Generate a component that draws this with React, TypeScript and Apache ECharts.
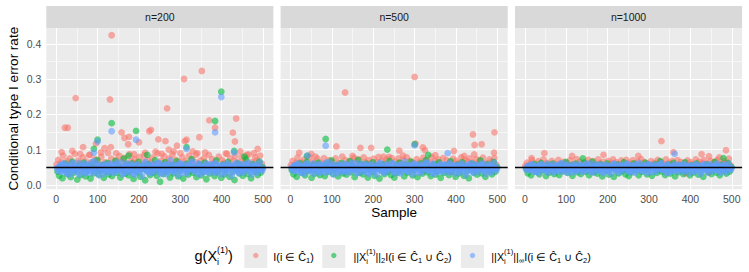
import React, { useEffect, useRef } from "react";
import * as echarts from "echarts";

// ---------- data ----------
const PANELS = ["n=200", "n=500", "n=1000"];
const SERIES_NAMES = ["I(i∈Ĉ1)", "||X_i^(1)||_2 I(i∈Ĉ1∪Ĉ2)", "||X_i^(1)||_∞ I(i∈Ĉ1∪Ĉ2)"];
const COLORS = ["#F8766D", "#00BA38", "#619CFF"];
const SAMPLE_TICKS = [0, 100, 200, 300, 400, 500];
const SAMPLE_MINOR = [50, 150, 250, 350, 450];
const RATE_TICKS = [0, 0.1, 0.2, 0.3, 0.4];
const RATE_MINOR = [0.05, 0.15, 0.25, 0.35];
const NOMINAL_LEVEL = 0.05;
// band series show every 4th sample; first sample per colour
const BAND_FIRST = [1, 3, 4];
const EXTRA_BLUE_FIRST = 2;
const BAND_STEP = 4;

// band values (thousandths), n=200
const red200 = [58, 71, 46, 64, 83, 52, 67, 41, 75, 60, 55, 88, 49, 69, 62, 44, 78, 57, 66, 51, 85, 63, 47, 72, 59,
  68, 43, 80, 56, 64, 50, 91, 61, 74, 46, 58, 70, 54, 82, 65, 39, 76, 60, 53, 87, 67, 48, 73, 62, 57,
  79, 45, 66, 84, 55, 70, 49, 63, 77, 58, 42, 89, 61, 68, 52, 81, 64, 47, 74, 59, 86, 56, 71, 44, 65,
  53, 78, 60, 67, 40, 83, 57, 72, 50, 64, 90, 55, 69, 46, 76, 62, 58, 85, 48, 73, 61, 66, 37, 80, 54,
  70, 63, 47, 88, 59, 75, 52, 68, 82, 56, 65, 43, 79, 61, 71, 50, 86, 58, 64, 45, 77, 69, 54, 83, 60];
const green200 = [38, 26, 51, 19, 44, 60, 31, 47, 22, 66, 35, 42, 15, 55, 28, 49, 63, 24, 40, 53, 18, 58, 33, 45, 71,
  29, 41, 56, 20, 37, 62, 30, 48, 25, 43, 68, 34, 52, 21, 46, 74, 32, 57, 27, 39, 61, 17, 50, 36, 65,
  23, 45, 54, 13, 40, 59, 28, 47, 35, 70, 26, 42, 9, 53, 31, 64, 38, 49, 21, 56, 33, 44, 67, 24, 41,
  52, 18, 46, 60, 29, 39, 73, 34, 50, 22, 43, 58, 27, 37, 63, 16, 48, 32, 55, 41, 25, 69, 36, 45, 20,
  57, 30, 42, 65, 23, 51, 38, 14, 46, 61, 33, 54, 26, 40, 72, 31, 48, 19, 59, 37, 44, 28, 66, 35, 50];
const blue200 = [45, 52, 37, 58, 42, 49, 31, 55, 44, 63, 39, 50, 47, 29, 54, 41, 60, 35, 48, 57, 33, 46, 67, 40, 53,
  27, 50, 43, 59, 38, 55, 45, 34, 57, 48, 40, 64, 42, 51, 30, 53, 46, 61, 36, 49, 56, 32, 44, 58, 41,
  51, 25, 47, 65, 38, 54, 43, 35, 58, 49, 46, 62, 31, 53, 42, 57, 37, 48, 69, 44, 36, 55, 50, 28, 60,
  40, 54, 46, 33, 57, 47, 66, 39, 52, 43, 61, 30, 50, 37, 55, 45, 34, 59, 48, 41, 63, 36, 52, 44, 56,
  47, 32, 58, 42, 51, 26, 54, 45, 62, 38, 49, 56, 35, 48, 60, 41, 53, 29, 46, 57, 39, 51, 64, 43, 48];
const blueB200 = [48, 39, 56, 43, 61, 35, 52, 46, 30, 58, 44, 50, 37, 62, 41, 54, 47, 33, 57, 49, 40, 64, 45, 36, 53,
  59, 42, 50, 31, 55, 47, 38, 60, 44, 52, 35, 57, 48, 41, 63, 46, 34, 54, 50, 39, 58, 43, 29, 56, 47,
  37, 53, 45, 60, 41, 49, 33, 57, 46, 52, 40, 62, 44, 36, 55, 48, 31, 59, 43, 51, 38, 56, 47, 42, 61,
  50, 34, 58, 45, 39, 54, 47, 63, 41, 49, 32, 56, 44, 52, 37, 60, 46, 40, 55, 48, 35, 58, 43, 51, 30,
  55, 44, 38, 61, 47, 52, 36, 57, 42, 49, 33, 59, 45, 40, 54, 48, 62, 37, 51, 44, 56, 34, 50, 46, 41];

// n=500
const red500 = [56, 68, 45, 62, 77, 51, 64, 42, 72, 58, 54, 79, 48, 66, 60, 44, 74, 55, 63, 50, 76, 61, 46, 69, 57,
  65, 43, 75, 54, 62, 49, 80, 59, 70, 46, 56, 67, 52, 77, 63, 40, 72, 58, 51, 78, 64, 47, 70, 60, 55,
  74, 45, 64, 79, 53, 68, 48, 61, 73, 56, 42, 76, 59, 66, 51, 75, 62, 47, 71, 57, 78, 54, 68, 44, 63,
  52, 73, 58, 65, 41, 77, 55, 69, 49, 62, 79, 54, 67, 46, 72, 60, 56, 76, 48, 70, 59, 64, 38, 74, 53,
  68, 61, 47, 78, 57, 71, 51, 66, 75, 55, 63, 43, 73, 59, 69, 50, 77, 57, 62, 45, 72, 66, 53, 76, 58];
const green500 = [42, 30, 53, 23, 47, 61, 35, 50, 27, 65, 39, 45, 20, 57, 32, 48, 63, 28, 43, 54, 25, 59, 37, 49, 69,
  31, 44, 56, 24, 40, 62, 33, 51, 29, 46, 67, 36, 53, 22, 47, 71, 34, 58, 30, 41, 60, 21, 50, 38, 64,
  26, 46, 55, 18, 42, 59, 31, 48, 37, 68, 28, 44, 21, 54, 34, 63, 40, 50, 24, 57, 35, 45, 66, 27, 43,
  52, 22, 47, 61, 32, 41, 70, 36, 51, 25, 44, 58, 29, 39, 64, 20, 49, 34, 56, 42, 28, 67, 38, 46, 23,
  57, 33, 43, 64, 26, 52, 40, 19, 47, 60, 35, 55, 29, 42, 69, 33, 49, 23, 58, 39, 45, 30, 65, 37, 51];
const blue500 = [46, 52, 39, 57, 43, 50, 34, 55, 45, 61, 41, 51, 47, 32, 54, 42, 59, 37, 49, 56, 35, 47, 64, 42, 53,
  30, 50, 44, 58, 39, 55, 46, 36, 57, 48, 41, 62, 43, 52, 33, 53, 47, 60, 38, 49, 56, 34, 45, 58, 42,
  51, 29, 48, 63, 39, 54, 44, 37, 57, 50, 46, 61, 33, 53, 43, 56, 38, 49, 66, 45, 37, 55, 51, 31, 59,
  41, 54, 47, 35, 57, 48, 64, 40, 52, 44, 60, 32, 50, 38, 55, 46, 36, 58, 49, 42, 62, 37, 52, 45, 56,
  48, 34, 57, 43, 51, 28, 54, 46, 61, 39, 50, 56, 36, 49, 59, 42, 53, 31, 47, 57, 40, 51, 63, 44, 49];
const blueB500 = [49, 40, 56, 44, 60, 36, 52, 47, 32, 58, 45, 51, 38, 61, 42, 54, 48, 34, 57, 50, 41, 63, 46, 37, 53,
  59, 43, 50, 33, 55, 47, 39, 60, 45, 52, 36, 57, 48, 42, 62, 46, 35, 54, 50, 40, 58, 44, 31, 56, 47,
  38, 53, 46, 60, 42, 49, 34, 57, 47, 52, 41, 61, 45, 37, 55, 48, 33, 59, 44, 51, 39, 56, 47, 43, 60,
  50, 35, 58, 46, 40, 54, 47, 62, 42, 49, 33, 56, 45, 52, 38, 59, 46, 41, 55, 48, 36, 58, 44, 51, 32,
  55, 45, 39, 60, 47, 52, 37, 57, 43, 49, 34, 58, 46, 41, 54, 48, 61, 38, 51, 45, 56, 35, 50, 47, 42];

// n=1000
const red1000 = [54, 63, 46, 59, 70, 50, 61, 44, 67, 56, 52, 72, 48, 62, 57, 45, 68, 53, 60, 49, 71, 58, 47, 65, 55,
  62, 44, 69, 52, 59, 48, 73, 56, 66, 46, 54, 63, 50, 71, 60, 41, 67, 55, 49, 72, 61, 47, 65, 57, 53,
  68, 45, 61, 72, 51, 64, 47, 58, 69, 54, 43, 71, 56, 62, 49, 70, 59, 46, 66, 55, 73, 52, 64, 44, 60,
  50, 67, 56, 62, 42, 71, 53, 65, 48, 59, 72, 52, 63, 45, 68, 57, 54, 70, 47, 65, 56, 61, 33, 69, 51,
  64, 58, 46, 72, 55, 66, 49, 62, 70, 53, 60, 35, 68, 56, 64, 48, 71, 54, 59, 44, 67, 62, 51, 74, 56];
const green1000 = [44, 33, 53, 27, 48, 59, 37, 51, 30, 62, 41, 46, 25, 56, 35, 49, 60, 31, 45, 53, 28, 57, 39, 50, 65,
  34, 46, 55, 26, 42, 60, 36, 52, 31, 47, 63, 38, 53, 27, 48, 66, 36, 56, 32, 43, 59, 24, 51, 40, 61,
  29, 47, 54, 23, 43, 58, 33, 49, 39, 64, 30, 45, 25, 54, 36, 61, 42, 50, 27, 56, 37, 46, 63, 30, 44,
  52, 26, 48, 59, 34, 42, 67, 38, 51, 28, 45, 57, 32, 41, 62, 24, 49, 36, 55, 43, 31, 64, 39, 47, 27,
  56, 35, 44, 61, 29, 52, 41, 23, 48, 58, 37, 54, 31, 43, 65, 35, 50, 27, 57, 40, 46, 32, 62, 38, 51];
const blue1000 = [47, 52, 41, 56, 44, 50, 37, 54, 46, 59, 43, 51, 48, 35, 54, 44, 57, 40, 49, 55, 38, 47, 61, 43, 53,
  34, 50, 45, 57, 41, 54, 47, 38, 56, 49, 42, 60, 44, 52, 36, 53, 48, 58, 40, 50, 55, 37, 46, 57, 43,
  51, 32, 48, 60, 41, 54, 45, 39, 56, 50, 47, 59, 36, 53, 44, 55, 40, 49, 62, 46, 39, 54, 51, 34, 57,
  42, 53, 48, 38, 56, 49, 60, 42, 52, 45, 58, 35, 50, 40, 54, 47, 38, 57, 49, 43, 59, 40, 52, 46, 55,
  48, 37, 56, 44, 51, 31, 53, 47, 59, 41, 50, 55, 38, 49, 58, 43, 53, 34, 47, 56, 42, 51, 60, 45, 49];
const blueB1000 = [49, 41, 55, 45, 59, 37, 52, 47, 34, 57, 45, 51, 39, 60, 43, 54, 48, 36, 56, 50, 42, 61, 46, 38, 53,
  58, 44, 50, 35, 55, 47, 40, 59, 45, 52, 37, 56, 48, 43, 61, 46, 36, 54, 50, 41, 57, 44, 33, 55, 47,
  39, 53, 46, 59, 43, 49, 35, 56, 47, 52, 42, 60, 45, 38, 55, 48, 34, 58, 44, 51, 40, 56, 47, 43, 59,
  50, 36, 57, 46, 41, 54, 47, 61, 43, 49, 34, 56, 45, 52, 39, 58, 46, 42, 55, 48, 37, 57, 44, 51, 33,
  55, 45, 40, 59, 47, 52, 38, 57, 44, 49, 35, 58, 46, 42, 54, 48, 60, 39, 51, 45, 56, 36, 50, 47, 43];

// outliers: [sample, value in thousandths]
const redOut200 = [[13, 93], [21, 162], [28, 162], [39, 96], [47, 246], [58, 88], [65, 107], [80, 85], [96, 117], [108, 92], [117, 104], [130, 242], [132, 107], [134, 424], [145, 90], [158, 149], [165, 133], [174, 115], [176, 136], [188, 87], [200, 121], [215, 91], [225, 152], [229, 156], [240, 94], [247, 129], [255, 88], [264, 124], [268, 217], [272, 100], [284, 95], [292, 111], [300, 90], [309, 300], [311, 124], [315, 128], [330, 95], [338, 86], [346, 135], [352, 323], [360, 92], [370, 183], [384, 162], [410, 89], [427, 148], [432, 123], [435, 188], [445, 95], [460, 85], [478, 90], [487, 102]];
const greenOut200 = [[91, 102], [100, 128], [134, 175], [175, 83], [193, 153], [220, 85], [315, 107], [384, 181], [399, 264], [430, 96], [455, 80]];
const blueOut200 = [[91, 91], [100, 123], [134, 152], [193, 128], [315, 102], [384, 149], [399, 249], [430, 92]];

const redOut500 = [[21, 91], [50, 88], [60, 80], [111, 109], [132, 262], [150, 82], [169, 105], [195, 105], [225, 80], [238, 79], [263, 97], [272, 83], [300, 306], [302, 117], [320, 106], [325, 98], [350, 84], [395, 96], [420, 82], [441, 143], [444, 86], [445, 113], [462, 115], [492, 91], [493, 149]];
const greenOut500 = [[40, 82], [85, 130], [234, 100], [300, 115], [333, 85]];
const blueOut500 = [[41, 83], [85, 111], [300, 112], [380, 90]];

const redOut1000 = [[16, 76], [47, 90], [114, 82], [190, 85], [274, 82], [330, 124], [359, 93], [427, 87], [445, 81], [470, 78], [486, 98]];
const greenOut1000 = [[140, 75], [480, 76]];
const blueOut1000 = [[362, 88]];

const BANDS = [
  [red200, green200, blue200],
  [red500, green500, blue500],
  [red1000, green1000, blue1000],
];
const EXTRA_BLUE = [blueB200, blueB500, blueB1000];
const OUTLIERS = [
  [redOut200, greenOut200, blueOut200],
  [redOut500, greenOut500, blueOut500],
  [redOut1000, greenOut1000, blueOut1000],
];

// ---------- layout ----------
const FONT = "'Liberation Sans', Arial, Helvetica, sans-serif";
const PANEL_LEFT = [46.3, 280.6, 515];
const PANEL_W = 227.1;
const PANEL_TOP = 28;
const PANEL_H = 161.3;
const STRIP_TOP = 6;
const STRIP_H = 22;
const X_MIN = -23.95;
const X_MAX = 524.95;
const Y_MIN = -0.0125;
const Y_MAX = 0.4447;

function bandPoints(band: number[], first: number) {
  return band.map((v, i) => [first + i * BAND_STEP, v / 1000]);
}
function outlierPoints(out: number[][]) {
  return out.map(([s, v]) => [s, v / 1000]);
}

let measureCtx: CanvasRenderingContext2D | null = null;
function measure(t: string, size: number) {
  if (!measureCtx) measureCtx = document.createElement("canvas").getContext("2d");
  if (!measureCtx) return t.length * size * 0.55;
  measureCtx.font = `${size}px ${FONT}`;
  return measureCtx.measureText(t).width;
}

type Piece = { t: string; k: "n" | "sub" | "sup"; s: number; dy: number };

function mathText(x0: number, yc: number, pieces: Piece[]) {
  const els: any[] = [];
  let x = x0;
  const mk = (t: string, px: number, py: number, s: number) => ({
    type: "text",
    x: px,
    y: py,
    silent: true,
    style: { text: t, fontSize: s, fontFamily: FONT, fill: "#000", verticalAlign: "middle", textVerticalAlign: "middle" },
  });
  for (let i = 0; i < pieces.length; i++) {
    const p = pieces[i];
    if (p.k === "sup" && pieces[i + 1] && pieces[i + 1].k === "sub") {
      const q = pieces[i + 1];
      const w1 = measure(p.t, p.s);
      const w2 = measure(q.t, q.s);
      els.push(mk(p.t, x, yc + p.dy, p.s));
      els.push(mk(q.t, x, yc + q.dy, q.s));
      x += Math.max(w1, w2);
      i++;
      continue;
    }
    els.push(mk(p.t, x, yc + p.dy, p.s));
    x += measure(p.t, p.s);
  }
  return els;
}

const B = 10.8; // legend label size
const SS = 7.5; // script size
const n = (t: string, s = B): Piece => ({ t, k: "n", s, dy: 0 });
const sub = (t: string, s = SS, dy = 4.8): Piece => ({ t, k: "sub", s, dy });
const sup = (t: string, s = SS, dy = -4.8): Piece => ({ t, k: "sup", s, dy });
const subLow = (t: string): Piece => ({ t, k: "n", s: SS, dy: 3.5 });

const LEGEND_Y = 256.5;
const LEGEND_TITLE_X = 194.5;
const KEY_X = [244.3, 322.3, 461];
const LABEL_X = [273.3, 353.4, 491.3];
const LABEL_PIECES: Piece[][] = [
  [n("I(i ∈ Ĉ"), subLow("1"), n(")")],
  [n("||X"), sup("(1)"), sub("i"), n("||"), subLow("2"), n("I(i ∈ Ĉ"), subLow("1"), n(" ∪ Ĉ"), subLow("2"), n(")")],
  [n("||X"), sup("(1)"), sub("i"), n("||"), subLow("∞"), n("I(i ∈ Ĉ"), subLow("1"), n(" ∪ Ĉ"), subLow("2"), n(")")],
];
const TITLE_PIECES: Piece[] = [n("g(X", 14.5), sup("(1)", 9, -5.6), sub("i", 9, 5.6), n(")", 14.5)];

export default function App() {
  const ref = useRef<HTMLDivElement>(null);
  useEffect(() => {
    document.body.style.margin = "0";
    if (!ref.current) return;
    const chart = echarts.init(ref.current, undefined, { renderer: "svg" });

    const grids = PANELS.map((_, k) => ({
      left: PANEL_LEFT[k],
      top: PANEL_TOP,
      width: PANEL_W,
      height: PANEL_H,
      show: true,
      backgroundColor: "#EBEBEB",
      borderWidth: 0,
      containLabel: false,
      outerBoundsMode: "none",
    }));

    const xAxes = PANELS.map((_, k) => ({
      type: "value",
      gridIndex: k,
      min: X_MIN,
      max: X_MAX,
      axisLine: { show: false },
      splitLine: { show: false },
      axisTick: { show: true, length: 3, lineStyle: { color: "#333333", width: 1 }, customValues: SAMPLE_TICKS },
      axisLabel: {
        show: true,
        customValues: SAMPLE_TICKS,
        color: "#4D4D4D",
        fontSize: 10.5,
        fontFamily: FONT,
        margin: 4,
        formatter: (v: number) => String(Math.round(v)),
      },
    }));

    const yAxes = PANELS.map((_, k) => ({
      type: "value",
      gridIndex: k,
      min: Y_MIN,
      max: Y_MAX,
      axisLine: { show: false },
      splitLine: { show: false },
      name: k === 0 ? "Conditional type I error rate" : "",
      nameLocation: "middle",
      nameRotate: 90,
      nameGap: 26,
      nameTextStyle: { fontSize: 13.5, color: "#000", fontFamily: FONT },
      axisTick: { show: k === 0, length: 3, lineStyle: { color: "#333333", width: 1 }, customValues: RATE_TICKS },
      axisLabel: {
        show: k === 0,
        customValues: RATE_TICKS,
        color: "#4D4D4D",
        fontSize: 10.5,
        fontFamily: FONT,
        margin: 5,
        formatter: (v: number) => v.toFixed(1),
      },
    }));

    const gridLineData = [
      ...SAMPLE_MINOR.map((v) => ({ xAxis: v, lineStyle: { color: "#FFFFFF", width: 0.55, type: "solid" } })),
      ...RATE_MINOR.map((v) => ({ yAxis: v, lineStyle: { color: "#FFFFFF", width: 0.55, type: "solid" } })),
      ...SAMPLE_TICKS.map((v) => ({ xAxis: v, lineStyle: { color: "#FFFFFF", width: 1.1, type: "solid" } })),
      ...RATE_TICKS.map((v) => ({ yAxis: v, lineStyle: { color: "#FFFFFF", width: 1.1, type: "solid" } })),
    ];

    const series: any[] = [];
    PANELS.forEach((_, k) => {
      [0, 1, 2].forEach((s) => {
        let data = bandPoints(BANDS[k][s], BAND_FIRST[s]);
        if (s === 2) data = data.concat(bandPoints(EXTRA_BLUE[k], EXTRA_BLUE_FIRST));
        data = data.concat(outlierPoints(OUTLIERS[k][s]));
        const ser: any = {
          type: "scatter",
          name: SERIES_NAMES[s],
          xAxisIndex: k,
          yAxisIndex: k,
          data,
          symbol: "circle",
          symbolSize: 6.8,
          itemStyle: { color: COLORS[s], opacity: 0.6 },
          silent: true,
          large: false,
          z: 2,
        };
        if (s === 0) {
          ser.markLine = {
            silent: true,
            z: 1,
            symbol: ["none", "none"],
            label: { show: false },
            emphasis: { disabled: true },
            data: gridLineData,
          };
        }
        if (s === 2) {
          ser.markLine = {
            silent: true,
            z: 5,
            symbol: ["none", "none"],
            label: { show: false },
            emphasis: { disabled: true },
            data: [{ yAxis: NOMINAL_LEVEL, lineStyle: { color: "#000000", width: 1.3, type: "solid" } }],
          };
        }
        series.push(ser);
      });
    });

    const graphics: any[] = [];
    PANELS.forEach((label, k) => {
      graphics.push({
        type: "rect",
        silent: true,
        shape: { x: PANEL_LEFT[k], y: STRIP_TOP, width: PANEL_W, height: STRIP_H },
        style: { fill: "#D9D9D9" },
      });
      graphics.push({
        type: "text",
        silent: true,
        x: PANEL_LEFT[k] + PANEL_W / 2,
        y: STRIP_TOP + STRIP_H / 2,
        style: {
          text: label,
          fontSize: 10.5,
          fontFamily: FONT,
          fill: "#1A1A1A",
          align: "center",
          textAlign: "center",
          verticalAlign: "middle",
          textVerticalAlign: "middle",
        },
      });
    });
    graphics.push({
      type: "text",
      silent: true,
      x: (PANEL_LEFT[0] + PANEL_LEFT[2] + PANEL_W) / 2,
      y: 212.5,
      style: {
        text: "Sample",
        fontSize: 13.5,
        fontFamily: FONT,
        fill: "#000",
        align: "center",
        textAlign: "center",
        verticalAlign: "middle",
        textVerticalAlign: "middle",
      },
    });
    // legend
    graphics.push(...mathText(LEGEND_TITLE_X, LEGEND_Y - 0.5, TITLE_PIECES));
    COLORS.forEach((c, s) => {
      graphics.push({
        type: "rect",
        silent: true,
        shape: { x: KEY_X[s], y: LEGEND_Y - 11.5, width: 23, height: 23 },
        style: { fill: "#EBEBEB" },
      });
      graphics.push({
        type: "circle",
        silent: true,
        shape: { cx: KEY_X[s] + 11.5, cy: LEGEND_Y - 1, r: 2.7 },
        style: { fill: c, opacity: 0.6 },
      });
      graphics.push(...mathText(LABEL_X[s], LEGEND_Y, LABEL_PIECES[s]));
    });

    chart.setOption({
      animation: false,
      backgroundColor: "#FFFFFF",
      textStyle: { fontFamily: FONT },
      grid: grids,
      xAxis: xAxes,
      yAxis: yAxes,
      series,
      graphic: { elements: graphics },
    });
    return () => chart.dispose();
  }, []);
  return <div ref={ref} style={{ width: 749, height: 272 }} />;
}
